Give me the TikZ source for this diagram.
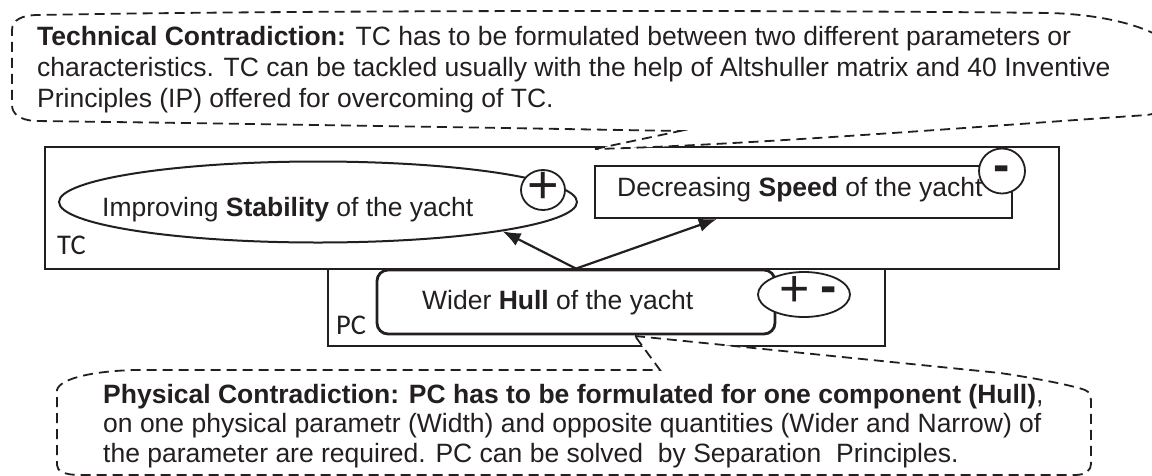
\documentclass[tikz,border=0pt]{standalone}
\usepackage{fontspec}
\setmainfont{Liberation Sans}
\newfontfamily\labfont{Carlito}
\usetikzlibrary{arrows.meta,calc,shapes.geometric}
\definecolor{ink}{HTML}{231F20}
\begin{document}
\begin{tikzpicture}[x=1pt,y=-1pt,
  txt/.style={inner sep=0pt,anchor=base west,text=ink,font=\fontsize{26.5}{31}\selectfont},
  lab/.style={inner sep=0pt,anchor=base west,text=ink,font=\labfont\fontsize{28.5}{28.5}\selectfont},
  box/.style={draw=ink,line width=2pt,inner sep=0pt},
  bubble/.style={draw=ink,line width=1.8pt,ellipse,fill=white,inner sep=0pt},
  callout/.style={draw=ink,line width=1.8pt,dash pattern=on 10pt off 6pt,fill=white},
  sign/.style={inner sep=0pt,text=ink},
  arr/.style={draw=ink,line width=2.2pt,-{Latex[length=18pt,width=14pt]}}
]
\useasboundingbox (0,0) rectangle (1152,475);

% TC frame
\node[box,minimum width=1014pt,minimum height=122pt] (tc) at (552,208) {};
\node[lab] (tclab) at (57,254) {TC};

% PC frame
\node[box,minimum width=557pt,minimum height=77pt] (pc) at (606.5,307.5) {};
\node[lab] (pclab) at (336,334) {PC};

% Hull
\node[draw=ink,line width=2.8pt,rounded corners=11pt,fill=white,minimum width=398pt,minimum height=64pt,inner sep=0pt] (hull) at (576,302) {};
\node[txt] (hulltxt) at (422,309) {Wider \textbf{Hull} of the yacht};

% Stability ellipse
\node[box,ellipse,minimum width=518pt,minimum height=81pt] (stab) at (318,202) {};
\node[txt] (stabtxt) at (102,216) {Improving \textbf{Stability} of the yacht};

% Speed box
\node[box,minimum width=417pt,minimum height=52pt] (speed) at (803.5,192) {};
\node[txt] (speedtxt) at (617,196) {Decreasing \textbf{Speed} of the yacht};

% sign bubbles
\node[bubble,minimum width=44pt,minimum height=40pt] (plus) at (543,190) {};
\node[sign,font=\fontsize{54}{54}\selectfont] (plussign) at (543,188) {+};
\node[bubble,minimum width=46pt,minimum height=45pt] (minus) at (1002,171) {};
\node[sign,font=\bfseries\fontsize{49}{49}\selectfont] (minussign) at (1002,174) {-};
\node[bubble,minimum width=92pt,minimum height=45pt] (pm) at (804,294.5) {};
\node[sign,font=\fontsize{52}{52}\selectfont] (pmplus) at (794.5,291) {+};
\node[sign,font=\bfseries\fontsize{49}{49}\selectfont] (pmminus) at (828.5,295) {-};

% arrows
\coordinate (speedtip) at ($(speed.south west)!0.293!(speed.south east)$);
\draw[arr] (hull.north) -- (stab.-9);
\draw[arr] (hull.north) -- (speedtip);

% top callout
\draw[callout] (595,149) -- (680,131) .. controls (450,127) and (200,123) .. (35,121)
  .. controls (20,120) and (12,114) .. (12,105) -- (12,30)
  .. controls (12,20) and (22,15) .. (38,15)
  .. controls (300,10) and (800,10) .. (1050,13)
  .. controls (1120,15) and (1185,35) .. (1185,70)
  .. controls (1185,105) and (1165,112) .. (1147,115)
  .. controls (1000,125) and (750,145) .. cycle;
\node[txt] (top1) at (37,45) {\textbf{Technical Contradiction:} TC has to be formulated between two different parameters or};
\node[txt] (top2) at (37,76) {characteristics. TC can be tackled usually with the help of Altshuller matrix and 40 Inventive};
\node[txt] (top3) at (37,107) {Principles (IP) offered for overcoming of TC.};

% bottom callout
\draw[callout] (635,336) -- (1000,373) .. controls (1035,378) and (1075,386) .. (1085,390)
  .. controls (1090,392) and (1091,396) .. (1091,402) -- (1091,464)
  .. controls (1091,470) and (1086,475) .. (1075,475) -- (80,475)
  .. controls (64,475) and (57,471) .. (57,465) -- (57,390)
  .. controls (60,378) and (95,371) .. (135,370) -- (660,370) -- cycle;
\node[txt] (bot1) at (103,403) {\textbf{Physical Contradiction: PC has to be formulated for one component (Hull)},};
\node[txt] (bot2) at (103,432.5) {on one physical parametr (Width) and opposite quantities (Wider and Narrow) of};
\node[txt] (bot3) at (103,462) {the parameter are required. PC can be solved~ by Separation~ Principles.};
\end{tikzpicture}
\end{document}
